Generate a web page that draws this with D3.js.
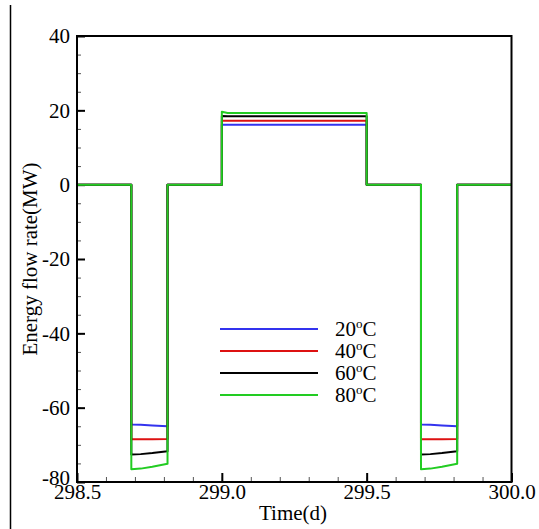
<!DOCTYPE html>
<html>
<head>
<meta charset="utf-8">
<script src="https://cdn.jsdelivr.net/npm/d3@7"></script>
<style>
  html, body { margin: 0; padding: 0; background: #fff; }
  svg { display: block; }
  svg text { font-family: "Liberation Serif", "Times New Roman", serif !important; }
</style>
</head>
<body>
<svg id="chart" width="539" height="529"></svg>
<script>
// ---- data ----
const time = [298.5, 298.6875, 298.6875, 298.72, 298.76, 298.8125, 298.8125, 299.0, 299.0, 299.02, 299.5, 299.5,
              299.6875, 299.6875, 299.72, 299.76, 299.8125, 299.8125, 300.0];
const seriesNames = ["20", "40", "60", "80"];
const seriesColors = ["#3333ee", "#dd1111", "#000000", "#22cc22"];
const v20 = [0, 0, -64.5, -64.6, -64.8, -65.0, 0, 0, 16.1, 16.1, 16.1, 0, 0, -64.5, -64.6, -64.8, -65.0, 0, 0];
const v40 = [0, 0, -68.5, -68.5, -68.5, -68.4, 0, 0, 17.2, 17.2, 17.2, 0, 0, -68.5, -68.5, -68.5, -68.4, 0, 0];
const v60 = [0, 0, -72.6, -72.5, -72.2, -71.7, 0, 0, 18.5, 18.4, 18.4, 0, 0, -72.6, -72.5, -72.2, -71.7, 0, 0];
const v80 = [0, 0, -76.6, -76.4, -75.9, -75.1, 0, 0, 19.6, 19.3, 19.3, 0, 0, -76.6, -76.4, -75.9, -75.1, 0, 0];
const seriesValues = [v20, v40, v60, v80];
const xTicks = [298.5, 299.0, 299.5, 300.0];
const xMinorTicks = d3.range(298.5, 300.0001, 0.1);
const yTicks = [-80, -60, -40, -20, 0, 20, 40];
const yMinorTicks = d3.range(-80, 40.001, 5);

// ---- layout ----
const FONT = "Liberation Serif";
const svg = d3.select("#chart");
const L = 77, R = 511.5, T = 36, B = 482;
const x = d3.scaleLinear().domain([298.5, 300.0]).range([L, R]);
const y = d3.scaleLinear().domain([-80, 40]).range([B, T]);

// stray left border line from the source image
svg.append("line").attr("x1", 10.5).attr("x2", 10.5).attr("y1", 5).attr("y2", 529)
  .attr("stroke", "#000").attr("stroke-width", 1.5);

// minor ticks
svg.append("g").attr("transform", `translate(${L},0)`)
  .call(d3.axisLeft(y).tickValues(yMinorTicks).tickSize(-4).tickFormat(""))
  .call(g => g.select(".domain").remove())
  .call(g => g.selectAll("line").attr("stroke", "#555").attr("stroke-width", 1));
svg.append("g").attr("transform", `translate(0,${B})`)
  .call(d3.axisBottom(x).tickValues(xMinorTicks).tickSize(-5).tickFormat(""))
  .call(g => g.select(".domain").remove())
  .call(g => g.selectAll("line").attr("stroke", "#555").attr("stroke-width", 1));

// major ticks + labels
const yAxis = svg.append("g").attr("transform", `translate(${L},0)`)
  .call(d3.axisLeft(y).tickValues(yTicks).tickSize(-8).tickPadding(7).tickFormat(d => String(d)))
  .attr("font-family", FONT).attr("font-size", 21);
yAxis.select(".domain").remove();
yAxis.selectAll("line").attr("stroke", "#000").attr("stroke-width", 2);
yAxis.selectAll("text").attr("fill", "#000");
// lowest label sits a little above its tick, as in the source
yAxis.selectAll("text").filter(d => d === -80).attr("dy", "0.1em");

const xAxis = svg.append("g").attr("transform", `translate(0,${B})`)
  .call(d3.axisBottom(x).tickValues(xTicks).tickSize(-9).tickPadding(2).tickFormat(d3.format(".1f")))
  .attr("font-family", FONT).attr("font-size", 21);
xAxis.select(".domain").remove();
xAxis.selectAll("line").attr("stroke", "#000").attr("stroke-width", 2);
xAxis.selectAll("text").attr("fill", "#000");

// curves
const line = d3.line().x(d => x(d[0])).y(d => y(d[1]));
seriesValues.forEach((vals, i) => {
  svg.append("path")
    .datum(time.map((t, j) => [t, vals[j]]))
    .attr("d", line)
    .attr("fill", "none")
    .attr("stroke", seriesColors[i])
    .attr("stroke-width", 2)
    .attr("stroke-linejoin", "round");
});

// frame
svg.append("rect").attr("x", L).attr("y", T).attr("width", R - L).attr("height", B - T)
  .attr("fill", "none").attr("stroke", "#000").attr("stroke-width", 2);

// axis titles
svg.append("text").attr("x", 293).attr("y", 520).attr("text-anchor", "middle")
  .attr("font-size", 21).text("Time(d)");
svg.append("text").attr("transform", `translate(37,259) rotate(-90)`)
  .attr("text-anchor", "middle").attr("font-size", 21).text("Energy flow rate(MW)");

// legend
const legY0 = 329, legDy = 22;
seriesNames.forEach((n, i) => {
  const yy = legY0 + i * legDy;
  svg.append("line").attr("x1", 220).attr("x2", 318).attr("y1", yy).attr("y2", yy)
    .attr("stroke", seriesColors[i]).attr("stroke-width", 2);
  const t = svg.append("text").attr("x", 335).attr("y", yy + 7).attr("font-size", 21);
  t.append("tspan").text(n);
  t.append("tspan").attr("font-size", 13).attr("dy", -8).text("o");
  t.append("tspan").attr("dy", 8).text("C");
});
</script>
</body>
</html>
